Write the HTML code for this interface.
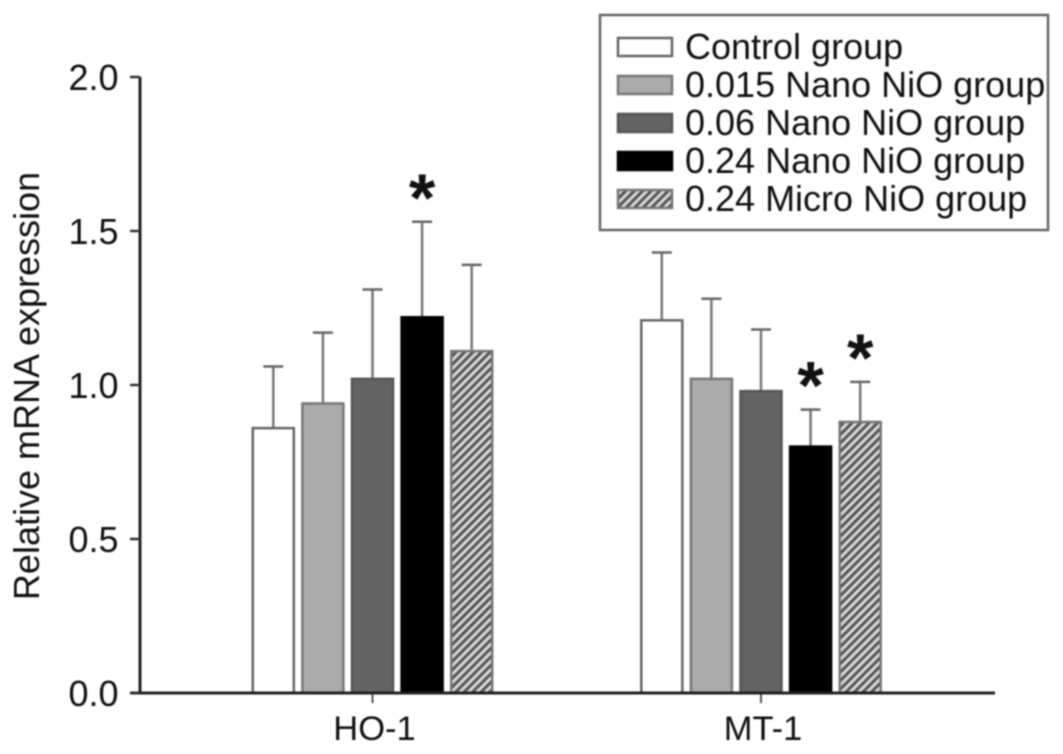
<!DOCTYPE html>
<html>
<head>
<meta charset="utf-8">
<style>
html,body{margin:0;padding:0;background:#fff;}
svg{display:block;font-family:"Liberation Sans",sans-serif;}
#plot{filter:blur(0.7px);}
text{fill:#111;}
</style>
</head>
<body>
<svg id="chart" width="1063" height="754" viewBox="0 0 1063 754" xmlns="http://www.w3.org/2000/svg">
<defs>
<pattern id="hatch" patternUnits="userSpaceOnUse" width="6" height="6" patternTransform="rotate(45)">
<rect width="6" height="6" fill="#d8d8d8"></rect>
<rect width="3" height="6" fill="#555"></rect>
</pattern>
</defs>
<g id="plot">
<g id="marks"></g>
<g id="axes"></g>
<text transform="translate(39,386) rotate(-90)" text-anchor="middle" font-size="36">Relative mRNA expression</text>
<g>
<rect x="600" y="15" width="448" height="215" fill="#fff" stroke="#666" stroke-width="2.5"></rect>
<g id="legend-entries"></g>
</g>
</g>
</svg>
<script>
const categories = ["HO-1", "MT-1"];
const seriesNames = ["Control group", "0.015 Nano NiO group", "0.06 Nano NiO group", "0.24 Nano NiO group", "0.24 Micro NiO group"];
const ho1Values = [0.86, 0.94, 1.02, 1.22, 1.11];
const mt1Values = [1.21, 1.02, 0.98, 0.80, 0.88];
const ho1Errors = [0.20, 0.23, 0.29, 0.31, 0.28];
const mt1Errors = [0.22, 0.26, 0.20, 0.12, 0.13];
const ho1Significant = [false, false, false, true, false];
const mt1Significant = [false, false, false, true, true];
const yTicks = [0.0, 0.5, 1.0, 1.5, 2.0];

const NS = "http://www.w3.org/2000/svg";
const fills = ["#ffffff", "#ababab", "#636363", "#000000", "url(#hatch)"];
const strokes = ["#666", "#777", "#555", "#000", "#777"];
const groupValues = [ho1Values, mt1Values];
const groupErrors = [ho1Errors, mt1Errors];
const groupSignificant = [ho1Significant, mt1Significant];

function yScale(v) { return 693 - v * 308; }
function xCategory(i) { return 372.5 + i * 388.5; }
function xBar(i, s) { return xCategory(i) + (s - 2) * 49.6; }

function make(tag, attrs, parent) {
  const el = document.createElementNS(NS, tag);
  for (const k in attrs) el.setAttribute(k, attrs[k]);
  parent.appendChild(el);
  return el;
}

const marks = document.getElementById("marks");
const axes = document.getElementById("axes");
const legendEntries = document.getElementById("legend-entries");
const barWidth = 41;

categories.forEach(function (cat, i) {
  seriesNames.forEach(function (name, s) {
    const cx = xBar(i, s);
    const v = groupValues[i][s];
    const top = yScale(groupValues[i][s] + groupErrors[i][s]);

    const stem = make("line", {x1: cx, x2: cx, y1: yScale(v), y2: top, stroke: "#777", "stroke-width": 2.5}, marks);
    
    
    const cap = make("line", {x1: cx - 10, x2: cx + 10, y1: top, y2: top, stroke: "#666", "stroke-width": 2.5}, marks);
    
    

    const bar = make("rect", {x: cx - barWidth / 2, y: yScale(v), width: barWidth, height: yScale(0) - yScale(v), fill: fills[s], stroke: strokes[s], "stroke-width": 2.5}, marks);
    
    

    if (groupSignificant[i][s]) {
      const star = make("text", {x: cx, y: top - 1, "text-anchor": "middle", "font-size": 68, "font-weight": "bold"}, marks);
      star.textContent = "*";
      
      
    }
  });

  const tick = make("line", {x1: xCategory(i), x2: xCategory(i), y1: 693, y2: 703, stroke: "#555", "stroke-width": 2}, axes);
  
  
  const label = make("text", {x: xCategory(i) + 2, y: 740, "text-anchor": "middle", "font-size": 34.5}, axes);
  label.textContent = cat;
  
  
});

const yAxis = make("line", {x1: 140, x2: 140, y1: yScale(2), y2: 694, stroke: "#222", "stroke-width": 3}, axes);


const xAxis = make("line", {x1: 130, x2: 995, y1: 693, y2: 693, stroke: "#222", "stroke-width": 3}, axes);



yTicks.forEach(function (t) {
  const tick = make("line", {x1: 130, x2: 140, y1: yScale(t), y2: yScale(t), stroke: "#333", "stroke-width": 2.5}, axes);
  
  
  const label = make("text", {x: 118.5, y: yScale(t) + 13, "text-anchor": "end", "font-size": 36}, axes);
  label.textContent = t.toFixed(1);
  
  
});

seriesNames.forEach(function (name, s) {
  const entryY = 38 + s * 38;
  const swatch = make("rect", {x: 618, y: entryY, width: 54, height: 18, fill: fills[s], stroke: strokes[s], "stroke-width": 2.5}, legendEntries);
  
  
  const label = make("text", {x: 685, y: entryY + 21, "font-size": 36}, legendEntries);
  label.textContent = name;
  
  
});
</script>
</body>
</html>
